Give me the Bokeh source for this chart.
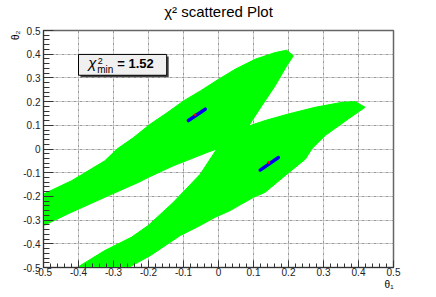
import numpy as np
from bokeh.plotting import figure
from bokeh.models import Label, FixedTicker, Title
from bokeh.embed import file_html
from bokeh.resources import INLINE

# ---- data ----
TICKS = [-0.5, -0.4, -0.3, -0.2, -0.1, 0.0, 0.1, 0.2, 0.3, 0.4, 0.5]
TICK_LABELS = ["-0.5", "-0.4", "-0.3", "-0.2", "-0.1", "0", "0.1", "0.2", "0.3", "0.4", "0.5"]

# outline of the allowed (green) region in (theta1, theta2)
REGION_X = [-0.50, -0.42, -0.325, -0.29, -0.243, -0.195, -0.147, -0.10, -0.052, 0.0, 0.048,
            0.105, 0.162, 0.195, 0.214, 0.195, 0.162, 0.124, 0.086, 0.133, 0.20, 0.276,
            0.353, 0.39, 0.419, 0.371, 0.305, 0.267, 0.248, 0.19, 0.133, 0.10, 0.033,
            -0.009, -0.062, -0.109, -0.195, -0.257, -0.404, -0.325, -0.249, -0.201,
            -0.129, -0.052, -0.005, -0.033, -0.129, -0.201, -0.229, -0.325, -0.42, -0.50]
REGION_Y = [-0.19, -0.134, -0.05, 0.0, 0.048, 0.105, 0.153, 0.203, 0.245, 0.294, 0.337,
            0.379, 0.407, 0.417, 0.393, 0.351, 0.267, 0.183, 0.097, 0.120, 0.148, 0.176,
            0.197, 0.20, 0.176, 0.127, 0.057, 0.001, -0.043, -0.113, -0.183, -0.204, -0.26,
            -0.288, -0.33, -0.365, -0.45, -0.5, -0.5, -0.4285, -0.3725, -0.323,
            -0.225, -0.106, 0.0, -0.015, -0.071, -0.120, -0.141, -0.204, -0.267, -0.323]

# blue (best-fit) regions, as short segments
BEST_X0 = [-0.086, 0.119]
BEST_Y0 = [0.120, -0.089]
BEST_X1 = [-0.038, 0.171]
BEST_Y1 = [0.168, -0.036]
# minima (red)
MIN_X = [-0.067, 0.143]
MIN_Y = [0.144, -0.057]

CHI2_MIN = "1.52"
TITLE = "\u03c7\u00b2 scattered Plot"
X_TITLE = "\u03b8\u2081"
Y_TITLE = "\u03b8\u2082"

FONT = "Liberation Sans"

# ---- figure ----
p = figure(width=436, height=297, x_range=(-0.5, 0.5), y_range=(-0.5, 0.5),
           output_backend="svg", toolbar_location=None,
           min_border_left=43, min_border_right=43, min_border_top=29, min_border_bottom=30)
p.background_fill_color = "white"
p.border_fill_color = "white"
p.outline_line_color = "#666666"
p.outline_line_width = 1.5

p.title.text = TITLE
p.title.align = "center"
p.title.text_font = FONT
p.title.text_font_size = "15px"
p.title.text_font_style = "normal"
p.title.text_color = "black"
p.title.standoff = 0

# empty spacer between frame and title (pushes the title toward the top edge)
p.add_layout(Title(text=" ", text_font_size="8px", standoff=0), "above")

p.add_layout(Title(text=X_TITLE, align="right", vertical_align="top", text_font=FONT,
                   text_font_size="10px", text_font_style="normal", text_color="black",
                   standoff=0), "below")
p.add_layout(Title(text=Y_TITLE, align="right", text_font=FONT, text_font_size="10px",
                   text_font_style="normal", text_color="black", standoff=0), "left")

p.patch(REGION_X, REGION_Y, fill_color="#00ff00", line_color="#00ff00", line_width=1)
p.segment(BEST_X0, BEST_Y0, BEST_X1, BEST_Y1, line_color="#0000ee", line_width=3.5, line_cap="round")
p.scatter(MIN_X, MIN_Y, size=2, color="#ff0000")

minor = list(np.round(np.arange(-0.5, 0.5001, 0.02), 2))
for ax in (p.xaxis[0], p.yaxis[0]):
    ax.ticker = FixedTicker(ticks=TICKS, minor_ticks=minor)
    ax.major_label_overrides = dict(zip(TICKS, TICK_LABELS))
    ax.major_tick_out = 0
    ax.minor_tick_out = 0
    ax.axis_line_color = "#333333"
    ax.major_tick_line_color = "#333333"
    ax.minor_tick_line_color = "#333333"
    ax.major_label_text_font = FONT
    ax.major_label_text_font_size = "10px"
    ax.major_label_text_color = "#222222"
p.yaxis.major_tick_in = 10
p.yaxis.minor_tick_in = 6
p.xaxis.major_tick_in = 7
p.xaxis.minor_tick_in = 4
p.yaxis.major_label_standoff = 3
p.xaxis.major_label_standoff = 0

for g in (p.xgrid[0], p.ygrid[0]):
    g.ticker = FixedTicker(ticks=TICKS)
    g.grid_line_color = "#999999"
    g.grid_line_dash = "3 1 1 1"
    g.grid_line_width = 1

# ---- helpers: picture pixel -> data (for the in-frame legend box) ----
def dx(px):
    return (px - 43.3) / 350.0 - 0.5

def dy(py):
    return 0.5 - (py - 29.3) / 237.7

# legend box with shadow
p.quad(left=dx(80.3), right=dx(168.5), bottom=dy(76.2), top=dy(55.3), fill_color="#444444", line_color=None)
p.quad(left=dx(78.3), right=dx(166.5), bottom=dy(74.2), top=dy(53.3), fill_color="#f0f0f0",
       line_color="black", line_width=1)

p.add_layout(Label(x=dx(88), y=dy(69.5), text="\u03c7", text_font=FONT, text_font_size="15px",
                   text_font_style="italic", text_color="black"))
p.add_layout(Label(x=dx(97.5), y=dy(63), text="2", text_font=FONT, text_font_size="9px", text_color="black"))
p.add_layout(Label(x=dx(97), y=dy(73.5), text="min", text_font=FONT, text_font_size="10px", text_color="black"))
p.add_layout(Label(x=dx(117), y=dy(69.5), text="= " + CHI2_MIN, text_font=FONT, text_font_size="13px",
                   text_font_style="bold", text_color="black"))

open("out.html", "w").write(file_html(p, INLINE))
